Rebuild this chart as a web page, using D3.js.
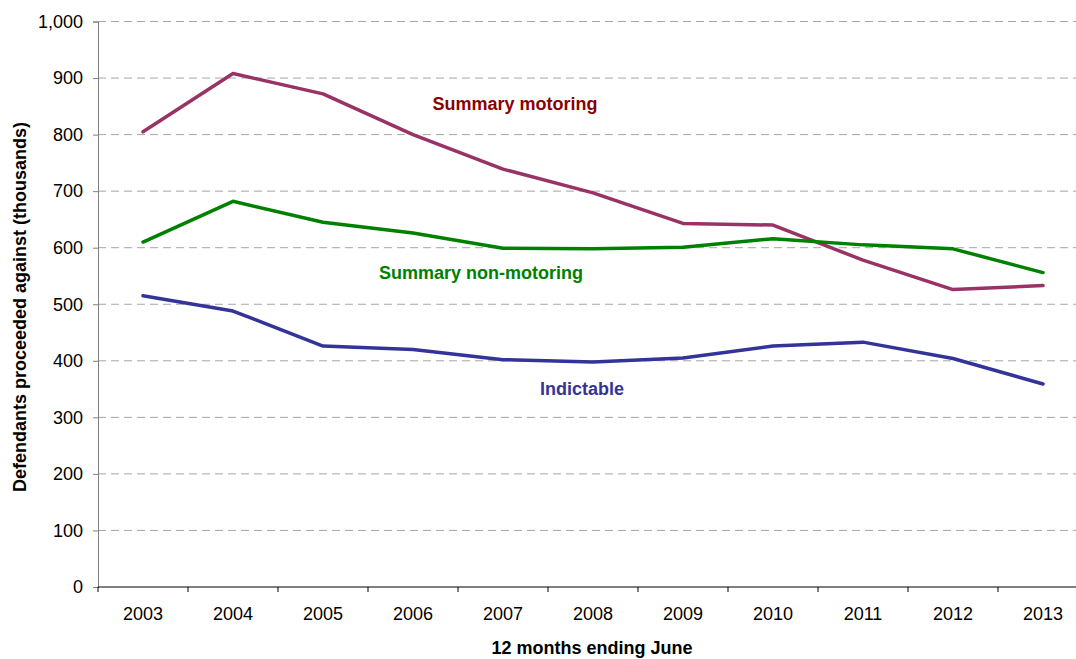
<!DOCTYPE html>
<html>
<head>
<meta charset="utf-8">
<script src="https://cdn.jsdelivr.net/npm/d3@7"></script>
<style>
  body { margin: 0; background: #fff; }
  svg { display: block; font-family: "Liberation Sans", Arial, sans-serif; }
</style>
</head>
<body>
<svg width="1076" height="659"></svg>
<script>
"use strict";

var years = ["2003","2004","2005","2006","2007","2008","2009","2010","2011","2012","2013"];
var motoring = [805, 908, 872, 800, 739, 697, 643, 640, 578, 526, 533];
var nonMotoring = [610, 682, 645, 626, 599, 598, 601, 616, 605, 598, 556];
var indictable = [515, 488, 426, 420, 402, 398, 405, 426, 433, 404, 359];
var yTicks = [0, 100, 200, 300, 400, 500, 600, 700, 800, 900, 1000];

var svg = d3.select("svg");

var xScale = d3.scaleBand().domain(years).range([98, 1088]);
var yScale = d3.scaleLinear().domain([0, 1000]).range([587, 21.5]);

// gridlines
svg.append("g")
	.selectAll("line")
	.data(yTicks.filter(function(d){ return d > 0; }))
	.enter()
	.append("line")
	.attr("x1", 98)
	.attr("x2", 1076)
	.attr("y1", function(d){ return yScale(d); })
	.attr("y2", function(d){ return yScale(d); })
	.attr("stroke", "#a6a6a6")
	.attr("stroke-width", 1)
	.attr("stroke-dasharray", "8,5");

// y axis
var yAxisG = svg.append("g")
	.attr("id", "yAxisG")
	.attr("transform", "translate(98,0)")
	.call(d3.axisLeft(yScale).tickValues(yTicks).tickSize(5).tickPadding(10).tickFormat(d3.format(",")));
yAxisG.select(".domain").attr("stroke", "#808080");
yAxisG.selectAll(".tick line").attr("stroke", "#808080");
yAxisG.selectAll("text")
	.style("font-size", "18px")
	.style("font-family", "Liberation Sans, Arial, sans-serif")
	.attr("fill", "#000");

// x axis with ticks between categories
var xAxisG = svg.append("g")
	.attr("id", "xAxisG")
	.attr("transform", "translate(0,587)");
xAxisG.append("line")
	.attr("x1", 98).attr("x2", 1076)
	.attr("stroke", "#000");
xAxisG.selectAll("line.tk")
	.data(years)
	.enter()
	.append("line")
	.attr("class", "tk")
	.attr("x1", function(d){ return xScale(d); })
	.attr("x2", function(d){ return xScale(d); })
	.attr("y1", 0)
	.attr("y2", 5)
	.attr("stroke", "#000");
xAxisG.selectAll("text")
	.data(years)
	.enter()
	.append("text")
	.attr("x", function(d){ return xScale(d) + xScale.bandwidth() / 2; })
	.attr("y", 33)
	.attr("text-anchor", "middle")
	.style("font-size", "18px")
	.text(function(d){ return d; });

// lines
var series = [
	{ values: motoring, color: "#993366" },
	{ values: nonMotoring, color: "#008000" },
	{ values: indictable, color: "#333399" }
];

var line = d3.line()
	.x(function(d, i){ return xScale(years[i]) + xScale.bandwidth() / 2; })
	.y(function(d){ return yScale(d); });

series.forEach(function(s){
	svg.append("path")
		.attr("d", line(s.values))
		.attr("fill", "none")
		.attr("stroke", s.color)
		.attr("stroke-width", 3.5)
		.attr("stroke-linejoin", "round")
		.attr("stroke-linecap", "round");
});

// series labels
var labels = [
	{ text: "Summary motoring", x: 515, y: 110, color: "#8b0000" },
	{ text: "Summary non-motoring", x: 481, y: 279, color: "#008000" },
	{ text: "Indictable", x: 582, y: 395, color: "#333399" }
];
svg.selectAll("text.lab")
	.data(labels)
	.enter()
	.append("text")
	.attr("class", "lab")
	.attr("x", function(d){ return d.x; })
	.attr("y", function(d){ return d.y; })
	.attr("text-anchor", "middle")
	.attr("fill", function(d){ return d.color; })
	.style("font-size", "18px")
	.style("font-weight", "bold")
	.text(function(d){ return d.text; });

// axis titles
svg.append("text")
	.attr("transform", "translate(26,307) rotate(-90)")
	.attr("text-anchor", "middle")
	.style("font-size", "18px")
	.style("font-weight", "bold")
	.text("Defendants proceeded against (thousands)");

svg.append("text")
	.attr("x", 592)
	.attr("y", 654)
	.attr("text-anchor", "middle")
	.style("font-size", "18px")
	.style("font-weight", "bold")
	.text("12 months ending June");
</script>
</body>
</html>
